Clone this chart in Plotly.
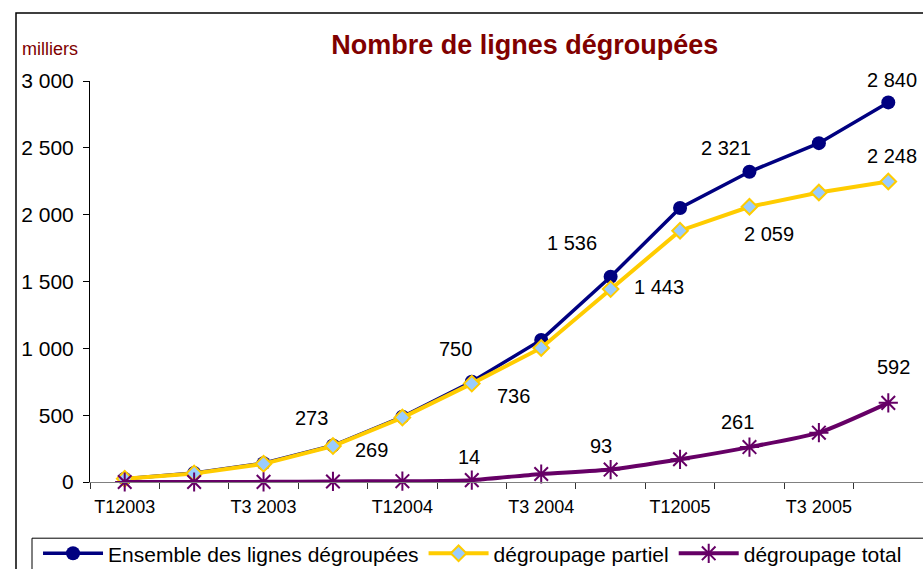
import plotly.graph_objects as go

categories = ["T1 2003", "T2 2003", "T3 2003", "T4 2003",
              "T1 2004", "T2 2004", "T3 2004", "T4 2004",
              "T1 2005", "T2 2005", "T3 2005", "T4 2005"]
ensemble = [25, 68, 140, 273, 488, 750, 1063, 1536, 2050, 2321, 2535, 2840]
partiel = [24, 64, 136, 269, 482, 736, 1003, 1443, 1880, 2059, 2166, 2248]
total = [0, 0, 1, 4, 6, 14, 60, 93, 170, 261, 369, 592]

x_tick_idx = [0, 2, 4, 6, 8, 10]
x_tick_text = ["T12003", "T3 2003", "T12004", "T3 2004", "T12005", "T3 2005"]
y_tick_vals = [0, 500, 1000, 1500, 2000, 2500, 3000]
y_tick_text = ["0", "500", "1 000", "1 500", "2 000", "2 500", "3 000"]

# labelled points: (index, text)
labels_ensemble = [(3, "273"), (5, "750"), (7, "1 536"), (9, "2 321"), (11, "2 840")]
labels_partiel = [(3, "269"), (5, "736"), (7, "1 443"), (9, "2 059"), (11, "2 248")]
labels_total = [(5, "14"), (7, "93"), (9, "261"), (11, "592")]

# label offsets in pixels (dx, dy) - layout only
off_ensemble = [(-21, 28), (-16, 33), (-39, 34), (-23, 24), (4, 22)]
off_partiel = [(39, -4), (42, -12), (48, 2), (20, -27), (4, 26)]
off_total = [(-3, 23), (-10, 24), (-12, 25), (5, 36)]

x = list(range(len(categories)))
FONT = "Liberation Sans, Arial, sans-serif"

fig = go.Figure()
fig.add_trace(go.Scatter(
    x=x, y=ensemble, name="Ensemble des lignes dégroupées", mode="lines+markers",
    line=dict(color="#000080", width=3.5),
    marker=dict(symbol="circle", size=14, color="#000080"),
    cliponaxis=False, customdata=categories))
fig.add_trace(go.Scatter(
    x=x, y=partiel, name="dégroupage partiel", mode="lines+markers",
    line=dict(color="#FFCC00", width=4),
    marker=dict(symbol="diamond", size=12, color="#99CCFF",
                line=dict(color="#FFCC00", width=2)),
    cliponaxis=False, customdata=categories))
fig.add_trace(go.Scatter(
    x=x, y=total, name="dégroupage total", mode="lines+markers",
    line=dict(color="#660066", width=4, shape="spline", smoothing=0.6),
    marker=dict(symbol="asterisk-open", size=16, color="#660066",
                line=dict(color="#660066", width=2)),
    cliponaxis=False, customdata=categories))

annotations = []
for series, labels, offs in [(ensemble, labels_ensemble, off_ensemble),
                             (partiel, labels_partiel, off_partiel),
                             (total, labels_total, off_total)]:
    for (i, t), (dx, dy) in zip(labels, offs):
        annotations.append(dict(x=x[i], y=series[i], xref="x", yref="y", text=t,
                                showarrow=False, xshift=dx, yshift=dy,
                                font=dict(family=FONT, size=20, color="black")))

annotations.append(dict(text="milliers", xref="paper", yref="paper",
                        x=-0.084, y=1.0797, xanchor="left", yanchor="middle",
                        showarrow=False,
                        font=dict(family=FONT, size=18, color="#800000")))

fig.update_layout(
    width=923, height=569,
    margin=dict(l=90, r=0, t=81, b=87, autoexpand=False),
    paper_bgcolor="white", plot_bgcolor="white",
    title=dict(text="<b>Nombre de lignes dégroupées</b>", xref="paper", x=0.522,
               xanchor="center", yref="container", y=0.921, yanchor="middle",
               font=dict(family=FONT, size=27, color="#800000")),
    showlegend=True,
    legend=dict(orientation="h", x=-0.0624, y=-0.1276, xanchor="left", yanchor="top",
                borderwidth=0, bgcolor="rgba(0,0,0,0)",
                itemwidth=60,
                font=dict(family=FONT, size=21, color="black")),
    annotations=annotations,
    shapes=[dict(type="rect", xref="paper", yref="paper",
                 x0=(16 - 90) / 833, x1=1.3, y0=-0.5, y1=(481.7 - 12) / 401.7,
                 line=dict(color="black", width=1.5), fillcolor="rgba(0,0,0,0)",
                 layer="below"),
            dict(type="rect", xref="paper", yref="paper",
                 x0=(32 - 90) / 833, x1=1.3, y0=-0.5, y1=(481.7 - 538) / 401.7,
                 line=dict(color="black", width=1), fillcolor="rgba(0,0,0,0)",
                 layer="below")],
)
fig.update_xaxes(range=[-0.5, len(categories) - 0.5], tickmode="array",
                 tickvals=x_tick_idx, ticktext=x_tick_text, ticks="",
                 showgrid=False, zeroline=False, showline=True,
                 linecolor="#808080", linewidth=1,
                 tickfont=dict(family=FONT, size=18, color="black"),
                 minor=dict(ticks="outside", tick0=-0.5, dtick=1, ticklen=6,
                            tickcolor="#333333", showgrid=False),
                 ticklabelstandoff=8)
fig.update_yaxes(range=[0, 3000], tickmode="array", tickvals=y_tick_vals,
                 ticktext=y_tick_text, ticks="outside", ticklen=6, tickcolor="black",
                 showgrid=False, zeroline=False, showline=True,
                 linecolor="black", linewidth=1,
                 tickfont=dict(family=FONT, size=21, color="black"),
                 ticklabelstandoff=5)

fig.write_html("out.html",
               config={"displayModeBar": False},
               post_script="document.body.style.margin='0';"
                           "document.body.style.overflow='hidden';")
